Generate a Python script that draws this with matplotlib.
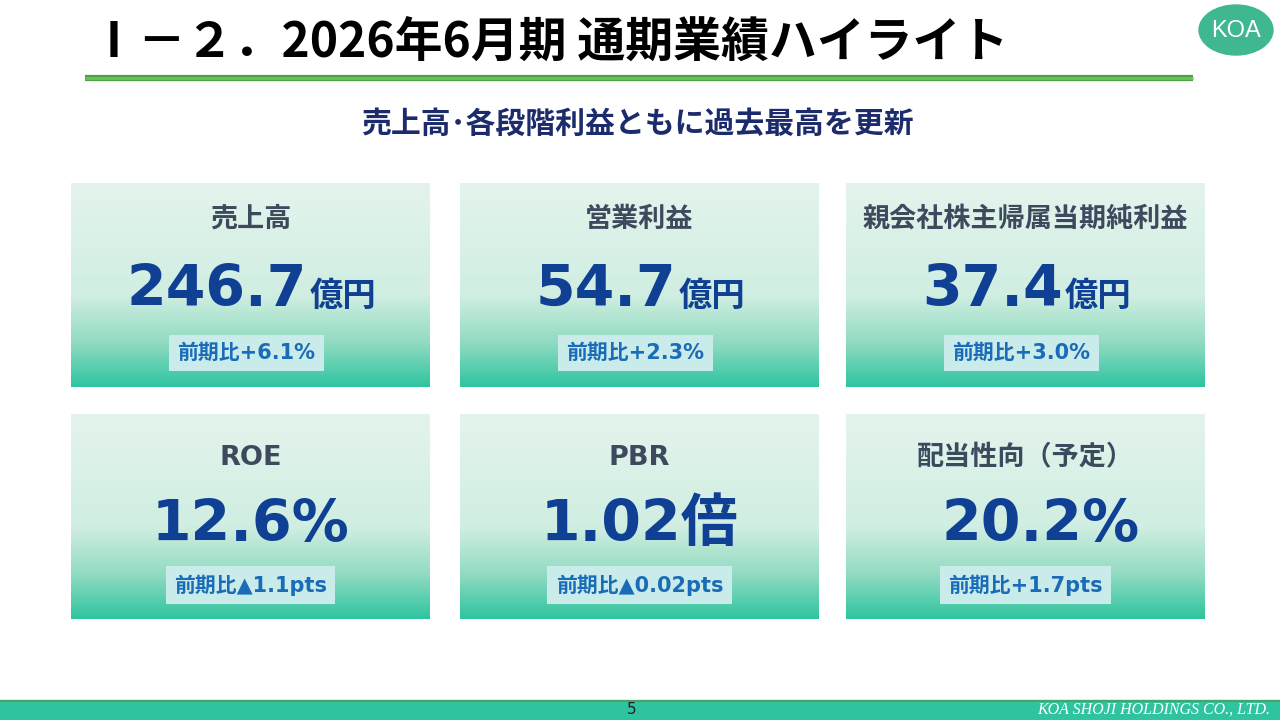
import numpy as np
import matplotlib
matplotlib.use("Agg")
import matplotlib.pyplot as plt
from matplotlib.patches import Rectangle, Ellipse
from matplotlib.colors import LinearSegmentedColormap

# データ
titles = ["売上高", "営業利益", "親会社株主帰属当期純利益", "ROE", "PBR", "配当性向（予定）"]
values = ["246.7", "54.7", "37.4", "12.6%", "1.02倍", "20.2%"]
units = ["億円", "億円", "億円", "", "", ""]
changes = ["前期比+6.1%", "前期比+2.3%", "前期比+3.0%",
           "前期比▲1.1pts", "前期比▲0.02pts", "前期比+1.7pts"]

JP = ["Noto Sans CJK JP", "DejaVu Sans"]
MIX = ["DejaVu Sans", "Noto Sans CJK JP"]

NAVY = "#0f4094"
LABEL = "#3d4a5e"
BADGE_TXT = "#1a6cb8"

fig = plt.figure(figsize=(12.8, 7.2), dpi=100)
ax = fig.add_axes([0, 0, 1, 1])
ax.set_xlim(0, 1280)
ax.set_ylim(720, 0)
ax.axis("off")

# タイトル
ax.text(90, 42, "Ⅰ－２．2026年6月期 通期業績ハイライト", family=JP, fontsize=34.5,
        fontweight="bold", color="black", ha="left", va="center")
ax.plot([85, 1193], [78, 78], color="#4f9f45", lw=4.5, solid_capstyle="butt")
ax.plot([85, 1193], [78, 78], color="#6cc25a", lw=2, solid_capstyle="butt")

ax.add_patch(Ellipse((1236, 30), 74, 50, color="#3fb891"))
ax.text(1236, 31, "KOA", family=["Liberation Sans"], fontsize=17, color="white",
        ha="center", va="center")

ax.text(637, 124, "売上高･各段階利益ともに過去最高を更新", family=JP, fontsize=21.5,
        fontweight="bold", color="#1b2b6b", ha="center", va="center")

# カード
grad = LinearSegmentedColormap.from_list(
    "card", [(0.0, "#e4f4ed"), (0.55, "#d0eee1"), (0.78, "#92dbc2"), (1.0, "#2ec4a0")])
g = np.linspace(0, 1, 256).reshape(-1, 1)

col_x = [(71, 430), (460, 819), (846, 1205)]
row_y = [(183, 387), (414, 619)]
label_y = [220, 458]
value_base = [306, 541]
badge_y = [353, 585]
value_shift = [0, 0, 0, 0, 0, 15]

fig.canvas.draw()
renderer = fig.canvas.get_renderer()
inv = ax.transData.inverted()


def width_of(t):
    bb = t.get_window_extent(renderer)
    p0 = inv.transform((bb.x0, bb.y0))
    p1 = inv.transform((bb.x1, bb.y0))
    return p1[0] - p0[0]


for i in range(6):
    r, c = divmod(i, 3)
    x0, x1 = col_x[c]
    y0, y1 = row_y[r]
    cx = (x0 + x1) / 2
    ax.imshow(g, cmap=grad, aspect="auto", extent=(x0, x1, y1, y0), zorder=1)

    ax.text(cx, label_y[r], titles[i], family=MIX, fontsize=19.5, fontweight="bold",
            color=LABEL, ha="center", va="center", zorder=3)

    tv = ax.text(0, value_base[r], values[i], family=MIX, fontsize=41,
                 fontweight="bold", color=NAVY, ha="left", va="baseline", zorder=3)
    wv = width_of(tv)
    wu = 0
    tu = None
    if units[i]:
        tu = ax.text(0, value_base[r], units[i], family=JP, fontsize=24,
                     fontweight="bold", color=NAVY, ha="left", va="baseline", zorder=3)
        wu = width_of(tu)
    start = cx + value_shift[i] - (wv + wu) / 2
    tv.set_x(start)
    if tu is not None:
        tu.set_x(start + wv + 2)

    ax.text(cx - 4 if r == 0 else cx, badge_y[r], changes[i], family=MIX, fontsize=15,
            fontweight="bold", color=BADGE_TXT, ha="center", va="center", zorder=3,
            bbox=dict(boxstyle="square,pad=0.4", fc="#c9ecea", ec="none"))

# フッター
ax.add_patch(Rectangle((0, 700), 1280, 20, color="#2ec4a0", zorder=2))
ax.plot([0, 1280], [700.5, 700.5], color="#4e9e5a", lw=1.2, zorder=3)
ax.text(632, 710, "5", family=["DejaVu Sans"], fontsize=11, color="#222222",
        ha="center", va="center", zorder=4)
ax.text(1270, 710, "KOA SHOJI HOLDINGS CO., LTD.", family=["Liberation Serif"],
        fontsize=11.5, style="italic", color="white", ha="right", va="center", zorder=4)

fig.savefig("out.png", dpi=100)
